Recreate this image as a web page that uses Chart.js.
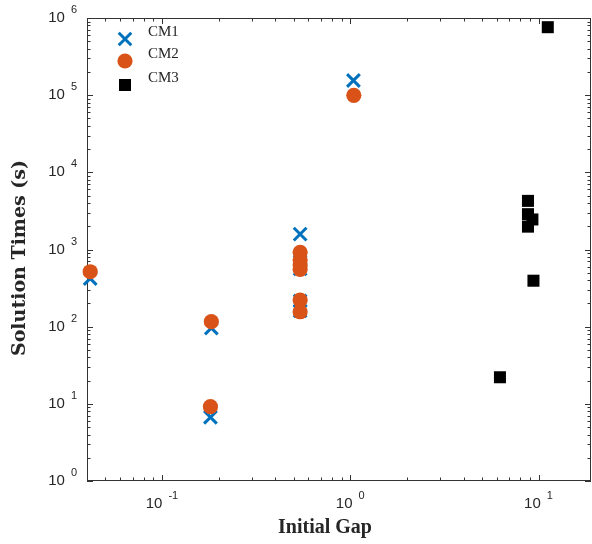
<!DOCTYPE html>
<html>
<head>
<meta charset="utf-8">
<script src="https://cdn.jsdelivr.net/npm/chart.js@4.4.0/dist/chart.umd.min.js"></script>
<style>
  body { margin: 0; background: #fff; }
</style>
</head>
<body>
<canvas id="chartId" width="592" height="544"></canvas>
<script>
// initial gap vs. solution time (s) for the three methods
var cm1Gap  = [0.0416, 0.183, 0.181, 0.542, 0.542, 0.542, 0.542, 0.542, 1.04];
var cm1Time = [421, 96, 6.7, 1580, 700, 560, 215, 160, 155000];

var cm2Gap  = [0.0416, 0.183, 0.181, 0.542, 0.542, 0.542, 0.542, 0.542, 0.542, 1.045];
var cm2Time = [515, 116, 9.2, 918, 729, 628, 553, 221, 156, 99400];

var cm3Gap  = [6.24, 8.79, 8.79, 9.28, 8.79, 9.4, 11.2];
var cm3Time = [22.1, 4266, 2870, 2450, 1978, 394, 760000];

var seriesNames = ['CM1', 'CM2', 'CM3'];
var xTickExps = [-1, 0, 1];
var yTickExps = [0, 1, 2, 3, 4, 5, 6];

function toPoints(xs, ys) {
    return xs.map(function (x, i) { return { x: x, y: ys[i] }; });
}

function minorValues(min, max) {
    var out = [];
    for (var d = Math.floor(Math.log10(min)); d <= Math.ceil(Math.log10(max)); d++) {
        for (var k = 2; k <= 9; k++) {
            var v = k * Math.pow(10, d);
            if (v > min && v < max) out.push(v);
        }
    }
    return out;
}

var axisColor = '#333333';
var tickFont = '15px "Liberation Sans", Arial, sans-serif';
var expFont = '11px "Liberation Sans", Arial, sans-serif';
var xTitleFont = 'bold 20px "Liberation Serif", "DejaVu Serif", serif';
var yTitleFont = 'bold 19px "DejaVu Serif", "Liberation Serif", serif';

function powerLabel(ctx, exp, x, y, mode) {
    ctx.font = tickFont;
    var w1 = ctx.measureText('10').width;
    ctx.font = expFont;
    var w2 = ctx.measureText(String(exp)).width;
    var gap = 6;
    var left = mode === 'center' ? x - (w1 + gap + w2) / 2 : x - (w1 + gap + w2);
    ctx.textAlign = 'left';
    ctx.textBaseline = 'middle';
    ctx.font = tickFont;
    ctx.fillText('10', left, y);
    ctx.font = expFont;
    ctx.fillText(String(exp), left + w1 + gap, y - 8);
}

// box, inward ticks on all four sides, power-of-ten labels and axis titles
var frame = {
    id: 'frame',
    beforeDatasetsDraw: function (chart) {
        var ctx = chart.ctx, a = chart.chartArea;
        var xs = chart.scales.x, ys = chart.scales.y;
        ctx.save();
        ctx.strokeStyle = axisColor;
        ctx.lineWidth = 1;
        ctx.strokeRect(a.left + 0.5, a.top + 0.5, a.right - a.left - 1, a.bottom - a.top - 1);

        function xTick(v, len) {
            var px = Math.round(xs.getPixelForValue(v)) + 0.5;
            ctx.beginPath();
            ctx.moveTo(px, a.bottom); ctx.lineTo(px, a.bottom - len);
            ctx.moveTo(px, a.top); ctx.lineTo(px, a.top + len);
            ctx.stroke();
        }
        function yTick(v, len) {
            var py = Math.round(ys.getPixelForValue(v)) + 0.5;
            ctx.beginPath();
            ctx.moveTo(a.left, py); ctx.lineTo(a.left + len, py);
            ctx.moveTo(a.right, py); ctx.lineTo(a.right - len, py);
            ctx.stroke();
        }
        xTickExps.forEach(function (e) { xTick(Math.pow(10, e), 6); });
        minorValues(xs.min, xs.max).forEach(function (v) { xTick(v, 3.5); });
        yTickExps.forEach(function (e) { yTick(Math.pow(10, e), 6); });
        minorValues(ys.min, ys.max).forEach(function (v) { yTick(v, 3.5); });

        ctx.fillStyle = '#262626';
        xTickExps.forEach(function (e) {
            powerLabel(ctx, e, xs.getPixelForValue(Math.pow(10, e)), a.bottom + 23, 'center');
        });
        yTickExps.forEach(function (e) {
            powerLabel(ctx, e, a.left - 10, ys.getPixelForValue(Math.pow(10, e)), 'right');
        });

        ctx.textAlign = 'center';
        ctx.textBaseline = 'middle';
        ctx.font = xTitleFont;
        ctx.fillText('Initial Gap', 325, 528);
        ctx.save();
        ctx.translate(20, 258);
        ctx.rotate(-Math.PI / 2);
        ctx.font = yTitleFont;
        ctx.fillText('Solution Times (s)', 0, 0);
        ctx.restore();
        ctx.restore();
    }
};

// legend inside the top-left corner of the plot
var cornerLegend = {
    id: 'cornerLegend',
    afterDatasetsDraw: function (chart) {
        var ctx = chart.ctx;
        var rows = [39, 61, 85];
        ctx.save();
        chart.data.datasets.forEach(function (ds, i) {
            var y = rows[i], x = 125;
            ctx.fillStyle = ds.backgroundColor;
            ctx.strokeStyle = ds.borderColor;
            ctx.lineWidth = ds.borderWidth;
            if (ds.pointStyle === 'crossRot') {
                var h = 6.3;
                ctx.beginPath();
                ctx.moveTo(x - h, y - h); ctx.lineTo(x + h, y + h);
                ctx.moveTo(x + h, y - h); ctx.lineTo(x - h, y + h);
                ctx.stroke();
            } else if (ds.pointStyle === 'circle') {
                ctx.beginPath();
                ctx.arc(x, y, ds.pointRadius, 0, Math.PI * 2);
                ctx.fill();
            } else {
                ctx.fillRect(x - 6, y - 6, 12, 12);
            }
            ctx.fillStyle = '#262626';
            ctx.font = '15px "Liberation Serif", "DejaVu Serif", serif';
            ctx.textAlign = 'left';
            ctx.textBaseline = 'middle';
            ctx.fillText(ds.label, 148, y - 7);
        });
        ctx.restore();
    }
};

var chrt = document.getElementById('chartId').getContext('2d');
var chartId = new Chart(chrt, {
    type: 'scatter',
    data: {
        datasets: [{
            label: seriesNames[0],
            data: toPoints(cm1Gap, cm1Time),
            pointStyle: 'crossRot',
            pointRadius: 9,
            borderColor: '#0072BD',
            backgroundColor: '#0072BD',
            borderWidth: 3,
            order: 2,
            clip: false,
        }, {
            label: seriesNames[1],
            data: toPoints(cm2Gap, cm2Time),
            pointStyle: 'circle',
            pointRadius: 7.6,
            borderWidth: 0,
            borderColor: '#D95319',
            backgroundColor: '#D95319',
            order: 1,
            clip: false,
        }, {
            label: seriesNames[2],
            data: toPoints(cm3Gap, cm3Time),
            pointStyle: 'rect',
            pointRadius: 8.5,
            borderWidth: 0,
            borderColor: '#000000',
            backgroundColor: '#000000',
            order: 3,
            clip: false,
        }],
    },
    options: {
        responsive: false,
        animation: false,
        layout: {
            autoPadding: false,
            padding: { left: 87, right: 1, top: 18, bottom: 63 },
        },
        plugins: {
            legend: { display: false },
            tooltip: { enabled: false },
        },
        scales: {
            x: {
                type: 'logarithmic',
                display: false,
                min: 0.04,
                max: 19,
            },
            y: {
                type: 'logarithmic',
                display: false,
                min: 1,
                max: 1000000,
            },
        },
    },
    plugins: [frame, cornerLegend],
});
</script>
</body>
</html>
